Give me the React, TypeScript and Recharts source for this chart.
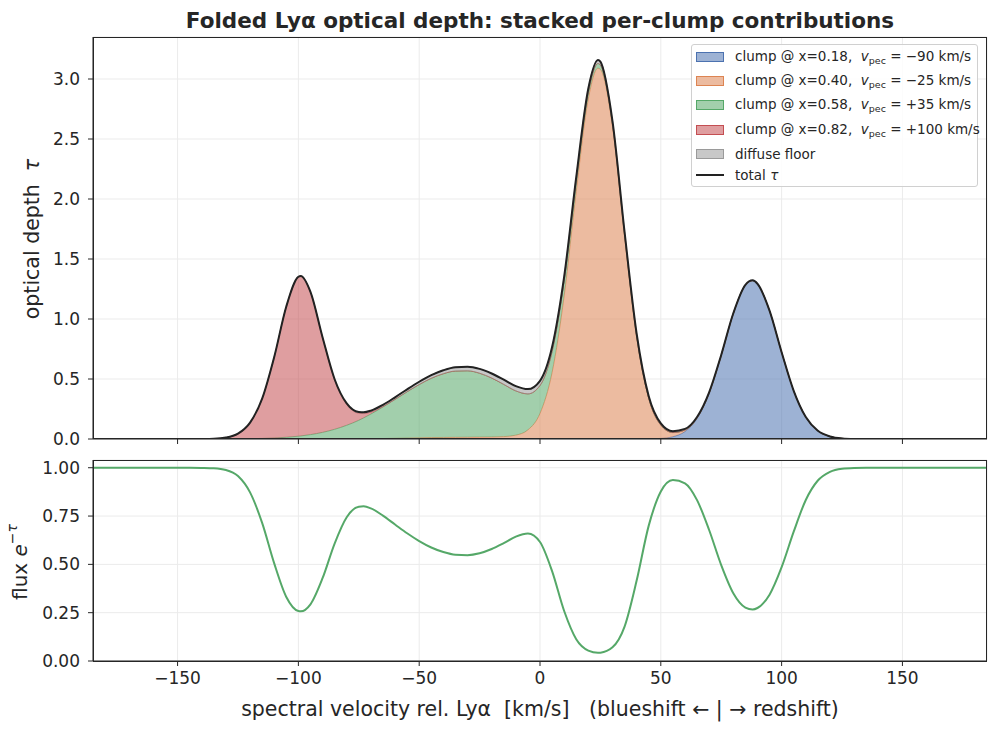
import { ComposedChart, Area, Line, XAxis, YAxis, CartesianGrid } from 'recharts'

// spectral velocity grid [km/s]
const velocity = [
  -185, -180, -175, -170, -165, -160, -155, -150, -145, -140,
  -135, -130, -125, -120, -115, -110, -105, -100, -99, -95,
  -90, -85, -80, -75, -73, -70, -65, -60, -55, -50, -45,
  -40, -35, -30, -25, -20, -15, -10, -5, 0, 5,
  10, 15, 20, 24, 25, 30, 35, 40, 45, 50,
  55, 60, 65, 70, 75, 80, 85, 88, 90, 95,
  100, 105, 110, 115, 120, 125, 130, 135, 140, 145,
  150, 155, 160, 165, 170, 175, 180, 185,
]

// per-clump optical depth
const tauClump18 = [
  0, 0, 0, 0, 0, 0, 0, 0, 0, 0,
  0, 0, 0, 0, 0, 0, 0, 0, 0, 0,
  0, 0, 0, 0, 0, 0, 0, 0, 0, 0, 0,
  0, 0, 0, 0, 0, 0, 0, 0, 0, 0,
  0, 0, 0, 0, 0, 0, 0, 0, 0.001, 0.005,
  0.019, 0.062, 0.17, 0.379, 0.694, 1.043, 1.282, 1.32, 1.292, 1.068,
  0.722, 0.401, 0.182, 0.068, 0.021, 0.005, 0.001, 0, 0, 0,
  0, 0, 0, 0, 0, 0, 0, 0,
]

const tauClump40 = [
  0, 0, 0, 0, 0, 0, 0, 0, 0, 0,
  0, 0, 0, 0, 0, 0, 0, 0, 0, 0,
  0, 0, 0, 0, 0.001, 0.002, 0.004, 0.006, 0.008, 0.01, 0.012,
  0.013, 0.014, 0.015, 0.016, 0.017, 0.02, 0.032, 0.076, 0.213, 0.554,
  1.192, 2.063, 2.834, 3.09, 3.08, 2.603, 1.691, 0.851, 0.335, 0.11,
  0.034, 0.0125, 0.006, 0.004, 0.002, 0.001, 0, 0, 0, 0,
  0, 0, 0, 0, 0, 0, 0, 0, 0, 0,
  0, 0, 0, 0, 0, 0, 0, 0,
]

const tauClump58 = [
  0, 0, 0, 0, 0, 0, 0, 0, 0.0001, 0.0002,
  0.0004, 0.0008, 0.0015, 0.0027, 0.0049, 0.0086, 0.0144, 0.0233, 0.0255, 0.0365,
  0.0552, 0.0808, 0.1143, 0.156, 0.175, 0.206, 0.263, 0.324, 0.386, 0.444, 0.494,
  0.531, 0.552, 0.553, 0.532, 0.491, 0.435, 0.369, 0.3, 0.233, 0.174,
  0.125, 0.086, 0.056, 0.039, 0.036, 0.0215, 0.0125, 0.007, 0.0037, 0.0019,
  0.0009, 0.0004, 0, 0, 0, 0, 0, 0, 0, 0,
  0, 0, 0, 0, 0, 0, 0, 0, 0, 0,
  0, 0, 0, 0, 0, 0, 0, 0,
]

const tauClump82 = [
  0, 0, 0, 0, 0, 0, 0, 0, 0, 0.0004,
  0.0021, 0.0106, 0.042, 0.133, 0.33, 0.673, 1.088, 1.326, 1.33, 1.186,
  0.788, 0.411, 0.174, 0.059, 0.036, 0.016, 0.0033, 0.0006, 0, 0, 0,
  0, 0, 0, 0, 0, 0, 0, 0, 0, 0,
  0, 0, 0, 0, 0, 0, 0, 0, 0, 0,
  0, 0, 0, 0, 0, 0, 0, 0, 0, 0,
  0, 0, 0, 0, 0, 0, 0, 0, 0, 0,
  0, 0, 0, 0, 0, 0, 0, 0,
]

const tauDiffuse = [
  0, 0, 0, 0, 0, 0, 0, 0, 0.0001, 0.0002,
  0.0003, 0.0004, 0.0006, 0.0008, 0.0011, 0.0016, 0.0021, 0.0028, 0.003, 0.0038,
  0.0049, 0.0063, 0.0079, 0.0098, 0.0107, 0.012, 0.0145, 0.017, 0.02, 0.023, 0.026,
  0.029, 0.032, 0.034, 0.0366, 0.038, 0.0394, 0.04, 0.0399, 0.039, 0.038,
  0.036, 0.0339, 0.031, 0.029, 0.0285, 0.025, 0.022, 0.019, 0.0166, 0.014,
  0.0116, 0.009, 0.0076, 0.006, 0.0046, 0.0036, 0.0027, 0.0022, 0.002, 0.0015,
  0.001, 0.0007, 0.0005, 0.0004, 0.0003, 0, 0, 0, 0, 0,
  0, 0, 0, 0, 0, 0, 0, 0,
]

// transmitted flux
const flux = [
  1, 1, 1, 1, 1, 1, 1, 1, 1, 0.9992,
  0.9972, 0.9883, 0.9569, 0.8724, 0.7146, 0.5051, 0.3314, 0.2587, 0.2571, 0.2934,
  0.4283, 0.6077, 0.7438, 0.7987, 0.8004, 0.7898, 0.7522, 0.7064, 0.661, 0.6206, 0.5874,
  0.5638, 0.5499, 0.5477, 0.5573, 0.5793, 0.6099, 0.6434, 0.6598, 0.6157, 0.4649,
  0.2585, 0.1127, 0.0539, 0.0425, 0.0431, 0.0707, 0.1781, 0.4161, 0.7005, 0.8772,
  0.9366, 0.9194, 0.8323, 0.6778, 0.4963, 0.3508, 0.2767, 0.2666, 0.2742, 0.3432,
  0.4853, 0.6692, 0.8332, 0.9339, 0.9789, 0.995, 0.999, 1, 1, 1,
  1, 1, 1, 1, 1, 1, 1, 1,
]

const xTicks = [-150, -100, -50, 0, 50, 100, 150]
const tauTicks = [0, 0.5, 1, 1.5, 2, 2.5, 3]
const fluxTicks = [0, 0.25, 0.5, 0.75, 1]

const FONT = '"DejaVu Sans", sans-serif'
const INK = '#262626'

const series = [
  { key: 'c18', color: '#4C72B0', label: 'clump @ x=0.18,', vpec: '−90' },
  { key: 'c40', color: '#DD8452', label: 'clump @ x=0.40,', vpec: '−25' },
  { key: 'c58', color: '#55A868', label: 'clump @ x=0.58,', vpec: '+35' },
  { key: 'c82', color: '#C44E52', label: 'clump @ x=0.82,', vpec: '+100' },
  { key: 'diffuse', color: '#9a9a9a', label: 'diffuse floor', vpec: '' },
]

const data = velocity.map((v, i) => ({
  v,
  c18: tauClump18[i],
  c40: tauClump40[i],
  c58: tauClump58[i],
  c82: tauClump82[i],
  diffuse: tauDiffuse[i],
  total: tauClump18[i] + tauClump40[i] + tauClump58[i] + tauClump82[i] + tauDiffuse[i],
  flux: flux[i],
}))

const tickStyle = { fill: INK, fontSize: 17, fontFamily: FONT }
const rowCenters = [11.5, 36, 60.3, 85, 109, 130]

function LegendBox() {
  return (
    <div
      style={{
        position: 'absolute', left: 691, top: 44, width: 285, height: 141,
        border: '1px solid #d0d0d0', borderRadius: 3, background: 'rgba(255,255,255,0.85)',
        fontFamily: FONT, fontSize: 13.5, color: INK,
      }}
    >
      {series.map((s, i) => (
        <div key={s.key} style={{ position: 'absolute', left: 4, top: rowCenters[i] - 10, height: 20, display: 'flex', alignItems: 'center', whiteSpace: 'pre' }}>
          <span style={{ display: 'inline-block', width: 26, height: 8, background: s.color + '8c', border: `1px solid ${s.color}` }} />
          <span style={{ marginLeft: 11 }}>
            {s.label}
            {s.vpec && (
              <>
                {'  '}
                <i>v</i>
                <sub style={{ fontSize: 9.5, verticalAlign: '-3px' }}>pec</sub>
                {' = ' + s.vpec + ' km/s'}
              </>
            )}
          </span>
        </div>
      ))}
      <div style={{ position: 'absolute', left: 4, top: rowCenters[5] - 10, height: 20, display: 'flex', alignItems: 'center' }}>
        <span style={{ display: 'inline-block', width: 28, height: 2, background: '#222' }} />
        <span style={{ marginLeft: 11 }}>total <i>τ</i></span>
      </div>
    </div>
  )
}

export default function App() {
  return (
    <div style={{ position: 'absolute', left: 0, top: 0, width: 997, height: 733, background: '#fff', fontFamily: FONT }}>
      <div style={{ position: 'absolute', left: 0, top: 0 }}>
        <ComposedChart width={997} height={449} data={data} margin={{ top: 37, right: 10, bottom: 0, left: 0 }}>
          <CartesianGrid stroke="#ebebeb" strokeWidth={1} />
          <XAxis
            dataKey="v" type="number" domain={[-185, 185]} ticks={xTicks} allowDataOverflow
            height={10} tickSize={5} tickFormatter={() => ''} stroke={INK} tickLine={{ stroke: INK }}
          />
          <YAxis
            type="number" domain={[0, 3.35]} ticks={tauTicks} allowDataOverflow width={93}
            tickSize={5} tickMargin={8} tick={tickStyle} tickFormatter={(t: number) => t.toFixed(1)}
            stroke={INK} tickLine={{ stroke: INK }}
          />
          {series.map((s) => (
            <Area
              key={s.key} type="monotone" dataKey={s.key} stackId="tau" isAnimationActive={false}
              fill={s.color} fillOpacity={0.55} stroke={s.color} strokeOpacity={0.75} strokeWidth={1}
              dot={false} activeDot={false}
            />
          ))}
          <Line type="monotone" dataKey="total" stroke="#222" strokeWidth={2} dot={false} isAnimationActive={false} />
        </ComposedChart>
      </div>

      <div style={{ position: 'absolute', left: 0, top: 450 }}>
        <ComposedChart width={997} height={245} data={data} margin={{ top: 10, right: 10, bottom: 0, left: 0 }}>
          <CartesianGrid stroke="#ebebeb" strokeWidth={1} />
          <XAxis
            dataKey="v" type="number" domain={[-185, 185]} ticks={xTicks} allowDataOverflow
            height={34} tickSize={5} tickMargin={6} tick={tickStyle}
            tickFormatter={(t: number) => (t < 0 ? '−' + Math.abs(t) : String(t))}
            stroke={INK} tickLine={{ stroke: INK }}
          />
          <YAxis
            type="number" domain={[0, 1.04]} ticks={fluxTicks} allowDataOverflow width={93}
            tickSize={5} tickMargin={8} tick={tickStyle} tickFormatter={(t: number) => t.toFixed(2)}
            stroke={INK} tickLine={{ stroke: INK }}
          />
          <Line type="monotone" dataKey="flux" stroke="#55A868" strokeWidth={2} dot={false} isAnimationActive={false} />
        </ComposedChart>
      </div>

      {/* axes frames */}
      <div style={{ position: 'absolute', left: 93, top: 37, width: 894, height: 402, border: `1px solid ${INK}`, boxSizing: 'border-box', pointerEvents: 'none' }} />
      <div style={{ position: 'absolute', left: 93, top: 460, width: 894, height: 202, border: `1px solid ${INK}`, boxSizing: 'border-box', pointerEvents: 'none' }} />

      <svg width={997} height={733} style={{ position: 'absolute', left: 0, top: 0, pointerEvents: 'none' }}>
        <text x={540} y={28} textAnchor="middle" fontSize={21.5} fontWeight="bold" fill={INK} fontFamily={FONT}>
          Folded Lyα optical depth: stacked per-clump contributions
        </text>
        <text x={540} y={716} textAnchor="middle" fontSize={20.5} fill={INK} fontFamily={FONT} style={{ whiteSpace: 'pre' }}>
          {'spectral velocity rel. Lyα  [km/s]   (blueshift ← | → redshift)'}
        </text>
        <text transform="translate(32,239) rotate(-90)" textAnchor="middle" dominantBaseline="central" fontSize={20.5} fill={INK} fontFamily={FONT} style={{ whiteSpace: 'pre' }}>
          {'optical depth  '}<tspan fontStyle="italic">τ</tspan>
        </text>
        <text transform="translate(20,562) rotate(-90)" textAnchor="middle" dominantBaseline="central" fontSize={20} fill={INK} fontFamily={FONT}>
          flux <tspan fontStyle="italic">e</tspan><tspan dy={-8} fontSize={14}>−</tspan><tspan fontSize={14} fontStyle="italic">τ</tspan>
        </text>
      </svg>

      <LegendBox />
    </div>
  )
}
